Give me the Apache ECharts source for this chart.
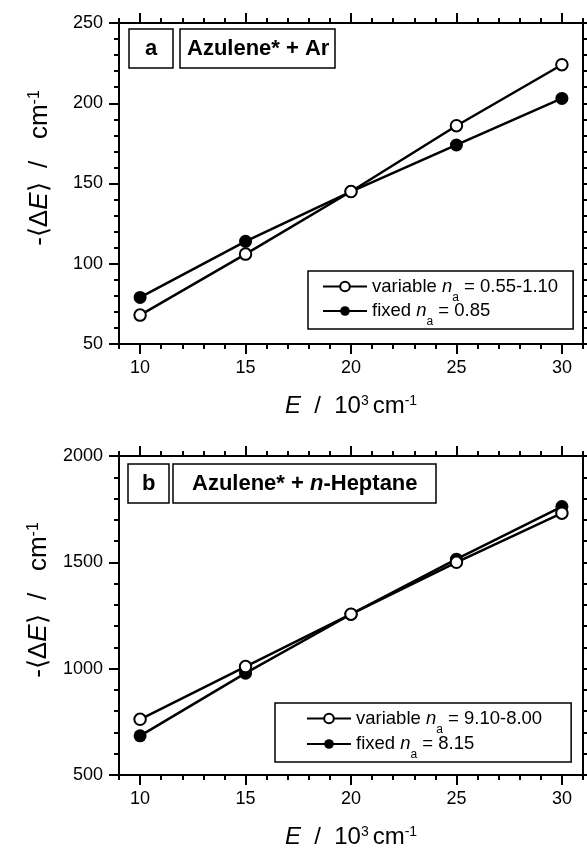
<!DOCTYPE html>
<html>
<head>
<meta charset="utf-8">
<script src="https://cdn.jsdelivr.net/npm/echarts@6/dist/echarts.min.js"></script>
<style>
  html, body { margin: 0; padding: 0; background: #fff; }
  #chart { width: 587px; height: 850px; }
</style>
</head>
<body>
<div id="chart"></div>
<script>
// Energy grid (10^3 cm^-1)
const energies = [10, 15, 20, 25, 30];

// Panel a: Azulene* + Ar, -<dE> / cm^-1
const arVariable = [68, 106, 145, 186, 224];
const arFixed = [79, 114, 145, 174, 203];

// Panel b: Azulene* + n-Heptane, -<dE> / cm^-1
const heptVariable = [762, 1010, 1256, 1500, 1731];
const heptFixed = [684, 979, 1256, 1515, 1762];

// Series names (n_a is rendered as italic n with subscript a)
const namesA = ['variable n_a = 0.55-1.10', 'fixed n_a = 0.85'];
const namesB = ['variable n_a = 9.10-8.00', 'fixed n_a = 8.15'];

// Axis ticks
const xMajorTicks = [10, 15, 20, 25, 30];
const xMinorTicks = [9, 11, 12, 13, 14, 16, 17, 18, 19, 21, 22, 23, 24, 26, 27, 28, 29, 31];
const xRange = [9, 31];
const yRangeA = [50, 250];
const yStepA = 50;
const yRangeB = [500, 2000];
const yStepB = 500;

const FONT = '"Liberation Sans", Arial, Helvetica, sans-serif';
const BLACK = '#000';

const xTitleRich = {
  t: { fontSize: 24, fontFamily: FONT, color: BLACK },
  it: { fontSize: 24, fontFamily: FONT, color: BLACK, fontStyle: 'italic' },
  sup: { fontSize: 14, fontFamily: FONT, color: BLACK, verticalAlign: 'top' },
  sp: { fontSize: 14, fontFamily: FONT, color: BLACK }
};
const yTitleRich = {
  t: { fontSize: 26, fontFamily: FONT, color: BLACK },
  it: { fontSize: 26, fontFamily: FONT, color: BLACK, fontStyle: 'italic' },
  sup: { fontSize: 16, fontFamily: FONT, color: BLACK, verticalAlign: 'top' }
};

const xTitle = '{it|E}{t|  /  10}{sup|3}{sp| }{t|cm}{sup|-1}';
const yTitle = '{t|-\u27E8\u0394}{it|E}{t|\u27E9  /   cm}{sup|-1}';

function xAxesFor(grid) {
  const base = {
    type: 'value', gridIndex: grid, min: xRange[0], max: xRange[1],
    splitLine: { show: false }
  };
  const line = { show: true, onZero: false, lineStyle: { color: BLACK, width: 2 } };
  const tickStyle = { color: BLACK, width: 2 };
  return [
    Object.assign({}, base, {
      position: 'bottom',
      axisLine: line,
      axisTick: { show: true, inside: false, length: 10, customValues: xMajorTicks, lineStyle: tickStyle },
      axisLabel: { show: true, customValues: xMajorTicks, margin: 15, fontSize: 18, color: BLACK, fontFamily: FONT },
      name: xTitle, nameLocation: 'middle', nameGap: 50,
      nameTextStyle: { rich: xTitleRich }
    }),
    Object.assign({}, base, {
      position: 'bottom',
      axisLine: { show: false, onZero: false },
      axisTick: { show: true, inside: false, length: 5, customValues: xMinorTicks, lineStyle: tickStyle },
      axisLabel: { show: false }
    }),
    Object.assign({}, base, {
      position: 'top',
      axisLine: line,
      axisTick: { show: true, inside: false, length: 10, customValues: xMajorTicks, lineStyle: tickStyle },
      axisLabel: { show: false }
    }),
    Object.assign({}, base, {
      position: 'top',
      axisLine: { show: false, onZero: false },
      axisTick: { show: true, inside: false, length: 5, customValues: xMinorTicks, lineStyle: tickStyle },
      axisLabel: { show: false }
    })
  ];
}

function yAxesFor(grid, range, step) {
  const base = {
    type: 'value', gridIndex: grid, min: range[0], max: range[1], interval: step,
    splitLine: { show: false },
    axisLine: { show: true, onZero: false, lineStyle: { color: BLACK, width: 2 } },
    axisTick: { show: true, inside: false, length: 10, lineStyle: { color: BLACK, width: 2 } },
    minorTick: { show: true, splitNumber: 5, length: 5, lineStyle: { color: BLACK, width: 2 } }
  };
  return [
    Object.assign({}, base, {
      position: 'left',
      axisLabel: { show: true, margin: 16, fontSize: 18, color: BLACK, fontFamily: FONT,
                   formatter: v => String(v) },
      name: yTitle, nameLocation: 'middle', nameGap: 66, nameRotate: 90,
      nameTextStyle: { rich: yTitleRich, padding: [0, 0, 0, 31] }
    }),
    Object.assign({}, base, {
      position: 'right',
      axisLabel: { show: false }
    })
  ];
}

function legendFormatter(name) {
  const parts = name.split('n_a');
  return '{t|' + parts[0] + '}{it|n}{sub|a}{t|' + parts[1] + '}';
}

const legendRich = {
  t: { fontSize: 18.5, fontFamily: FONT, color: BLACK, lineHeight: 22 },
  it: { fontSize: 18.5, fontFamily: FONT, color: BLACK, fontStyle: 'italic', lineHeight: 22 },
  sub: { fontSize: 12, fontFamily: FONT, color: BLACK, verticalAlign: 'bottom', padding: [0, 0, -6, 0] }
};

function makeLegend(names, left, top, pad, gap) {
  return {
    data: names, left: left, top: top, orient: 'vertical',
    selectedMode: false,
    itemWidth: 44, itemHeight: 12, itemGap: gap, itemTextGap: 8,
    padding: pad,
    borderColor: BLACK, borderWidth: 1.5,
    formatter: legendFormatter,
    textStyle: { fontSize: 18.5, fontFamily: FONT, color: BLACK, rich: legendRich }
  };
}

function filledSeries(name, values, xi, yi) {
  return {
    type: 'line', name: name, xAxisIndex: xi, yAxisIndex: yi,
    data: energies.map((e, i) => [e, values[i]]),
    symbol: 'circle', symbolSize: 13,
    itemStyle: { color: BLACK },
    lineStyle: { color: BLACK, width: 2.5 },
    z: 3
  };
}

function openSeries(name, values, xi, yi) {
  return {
    type: 'line', name: name, xAxisIndex: xi, yAxisIndex: yi,
    data: energies.map((e, i) => [e, values[i]]),
    symbol: 'circle', symbolSize: 11.5,
    itemStyle: { color: '#fff', borderColor: BLACK, borderWidth: 2 },
    lineStyle: { color: BLACK, width: 2.5 },
    z: 4
  };
}

function boxTitle(text, left, top, pad, rich) {
  return {
    text: text, left: left, top: top, padding: pad,
    borderColor: BLACK, borderWidth: 1.5,
    textStyle: { fontSize: 22, fontWeight: 'bold', fontFamily: FONT, color: BLACK, lineHeight: 25, rich: rich }
  };
}

const boldRich = {
  b: { fontSize: 22, fontWeight: 'bold', fontFamily: FONT, color: BLACK, lineHeight: 25 },
  bi: { fontSize: 22, fontWeight: 'bold', fontStyle: 'italic', fontFamily: FONT, color: BLACK, lineHeight: 25 }
};

const option = {
  animation: false,
  backgroundColor: '#fff',
  title: [
    boxTitle('a', 129, 29, [7, 16, 7, 16]),
    boxTitle('{b|Azulene* + Ar}', 180, 29, [7, 6, 7, 7], boldRich),
    boxTitle('b', 128, 464, [7, 14, 7, 14]),
    boxTitle('{b|Azulene* + }{bi|n}{b|-Heptane}', 173, 464, [7, 19, 7, 19], boldRich)
  ],
  grid: [
    { left: 119, top: 23, width: 464, height: 321 },
    { left: 119, top: 456, width: 464, height: 321 }
  ],
  xAxis: xAxesFor(0).concat(xAxesFor(1)),
  yAxis: yAxesFor(0, yRangeA, yStepA).concat(yAxesFor(1, yRangeB, yStepB)),
  legend: [
    makeLegend(namesA, 308, 271, [6, 15, 1, 14], -2),
    makeLegend(namesB, 275, 703, [6, 29, 1, 31], -1)
  ],
  series: [
    filledSeries(namesA[1], arFixed, 0, 0),
    openSeries(namesA[0], arVariable, 0, 0),
    filledSeries(namesB[1], heptFixed, 4, 2),
    openSeries(namesB[0], heptVariable, 4, 2)
  ]
};

const chart = echarts.init(document.getElementById('chart'), null, { renderer: 'canvas' });
chart.setOption(option);
</script>
</body>
</html>
